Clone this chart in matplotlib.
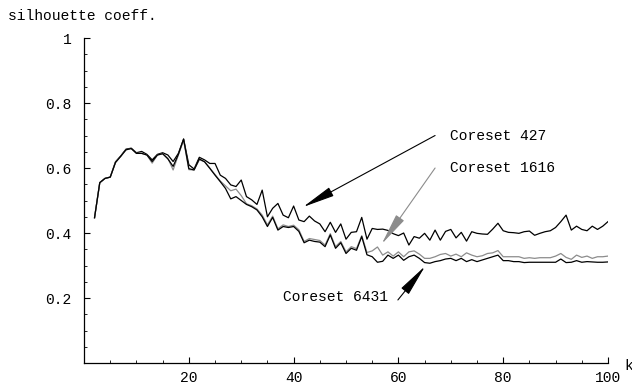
import numpy as np
import matplotlib
matplotlib.use("Agg")
import matplotlib.pyplot as plt
from matplotlib.ticker import MultipleLocator, FixedLocator

# numero de clusters k
k = np.arange(2, 101)

# coeficiente silhouette para cada coreset
coreset_427 = [
    0.447, 0.555, 0.568, 0.572, 0.619, 0.637, 0.658, 0.661, 0.647, 0.651,
    0.642, 0.625, 0.642, 0.647, 0.640, 0.620, 0.645, 0.689, 0.610, 0.597,
    0.633, 0.625, 0.614, 0.614, 0.578, 0.568, 0.548, 0.543, 0.563, 0.512,
    0.502, 0.488, 0.532, 0.450, 0.476, 0.491, 0.455, 0.447, 0.483, 0.440,
    0.435, 0.452, 0.437, 0.428, 0.404, 0.433, 0.402, 0.428, 0.381, 0.402,
    0.404, 0.448, 0.381, 0.414, 0.411, 0.412, 0.408, 0.398, 0.392, 0.400,
    0.363, 0.389, 0.384, 0.399, 0.378, 0.409, 0.378, 0.405, 0.411, 0.385,
    0.402, 0.375, 0.404, 0.399, 0.397, 0.396, 0.412, 0.430, 0.407, 0.402,
    0.401, 0.399, 0.404, 0.406, 0.393, 0.399, 0.404, 0.407, 0.417, 0.435,
    0.455, 0.409, 0.421, 0.411, 0.407, 0.421, 0.411, 0.421, 0.435,
]
coreset_1616 = [
    0.447, 0.555, 0.568, 0.572, 0.617, 0.636, 0.656, 0.660, 0.645, 0.645,
    0.640, 0.615, 0.640, 0.644, 0.630, 0.594, 0.640, 0.685, 0.595, 0.594,
    0.625, 0.620, 0.600, 0.580, 0.560, 0.545, 0.530, 0.535, 0.515, 0.490,
    0.484, 0.474, 0.455, 0.425, 0.452, 0.413, 0.425, 0.420, 0.424, 0.410,
    0.374, 0.383, 0.380, 0.377, 0.363, 0.398, 0.358, 0.374, 0.342, 0.358,
    0.352, 0.392, 0.340, 0.345, 0.357, 0.332, 0.342, 0.329, 0.342, 0.327,
    0.342, 0.345, 0.335, 0.322, 0.322, 0.327, 0.334, 0.337, 0.329, 0.335,
    0.327, 0.339, 0.332, 0.327, 0.330, 0.337, 0.339, 0.346, 0.327, 0.327,
    0.327, 0.327, 0.322, 0.324, 0.322, 0.324, 0.324, 0.324, 0.329, 0.337,
    0.325, 0.319, 0.332, 0.325, 0.329, 0.322, 0.327, 0.327, 0.329,
]
coreset_6431 = [
    0.447, 0.555, 0.568, 0.572, 0.617, 0.636, 0.656, 0.660, 0.645, 0.645,
    0.640, 0.620, 0.640, 0.644, 0.628, 0.605, 0.642, 0.689, 0.598, 0.594,
    0.628, 0.619, 0.599, 0.578, 0.558, 0.537, 0.505, 0.512, 0.500, 0.488,
    0.481, 0.471, 0.450, 0.420, 0.448, 0.409, 0.420, 0.417, 0.420, 0.405,
    0.370, 0.378, 0.374, 0.372, 0.358, 0.394, 0.353, 0.370, 0.337, 0.353,
    0.347, 0.389, 0.333, 0.327, 0.310, 0.313, 0.332, 0.322, 0.332, 0.316,
    0.327, 0.332, 0.322, 0.309, 0.307, 0.312, 0.315, 0.320, 0.322, 0.315,
    0.322, 0.312, 0.318, 0.312, 0.317, 0.322, 0.327, 0.332, 0.315, 0.315,
    0.312, 0.312, 0.309, 0.310, 0.310, 0.310, 0.310, 0.310, 0.310, 0.320,
    0.309, 0.310, 0.315, 0.310, 0.312, 0.311, 0.310, 0.310, 0.311,
]

y_ticks = [0.2, 0.4, 0.6, 0.8, 1.0]
y_labels = ["0.2", "0.4", "0.6", "0.8", "1"]
x_ticks = [20, 40, 60, 80, 100]

fuente = "Liberation Mono"
tam = 10.5

fig = plt.figure(figsize=(6.32, 3.89), dpi=100)
ax = fig.add_axes([0.133, 0.0668, 0.829, 0.8355])

ax.plot(k, coreset_427, color="black", lw=0.9)
ax.plot(k, coreset_1616, color="#8c8c8c", lw=0.9)
ax.plot(k, coreset_6431, color="black", lw=0.9)

ax.set_xlim(0, 100)
ax.set_ylim(0, 1)

# ejes estilo Mathematica: solo izquierda y abajo, ticks hacia dentro
for lado in ["top", "right"]:
    ax.spines[lado].set_visible(False)
ax.spines["left"].set_linewidth(0.9)
ax.spines["bottom"].set_linewidth(0.9)

ax.yaxis.set_major_locator(FixedLocator(y_ticks))
ax.set_yticklabels(y_labels)
ax.yaxis.set_minor_locator(MultipleLocator(0.05))
ax.xaxis.set_major_locator(FixedLocator(x_ticks))
ax.xaxis.set_minor_locator(MultipleLocator(5))

ax.tick_params(which="major", direction="in", length=4, width=0.8)
ax.tick_params(which="minor", direction="in", length=2.2, width=0.6)
ax.tick_params(axis="y", which="major", pad=9)
ax.tick_params(axis="x", which="major", pad=6)
for t in ax.get_xticklabels() + ax.get_yticklabels():
    t.set_fontfamily(fuente)
    t.set_fontsize(tam)

fig.text(0.012, 1 - 16 / 389, "silhouette coeff.", family=fuente, size=tam,
         ha="left", va="center")
fig.text(624 / 632, 1 - 366 / 389, "k", family=fuente, size=tam,
         ha="left", va="center")

# flechas con las etiquetas de cada coreset
flecha = dict(arrowstyle="-|>,head_length=2.0,head_width=0.3",
              shrinkA=0, shrinkB=0, lw=0.8)

ax.annotate("", xy=(41.8, 0.48), xytext=(67.0, 0.70),
            arrowprops=dict(flecha, color="black"))
ax.text(69.8, 0.70, "Coreset 427", family=fuente, size=tam, va="center")

ax.annotate("", xy=(56.8, 0.366), xytext=(67.0, 0.60),
            arrowprops=dict(flecha, color="#8c8c8c"))
ax.text(69.8, 0.60, "Coreset 1616", family=fuente, size=tam, va="center")

ax.annotate("", xy=(65.1, 0.298), xytext=(59.9, 0.194),
            arrowprops=dict(flecha, color="black"))
ax.text(58.0, 0.203, "Coreset 6431", family=fuente, size=tam,
        ha="right", va="center")

fig.savefig("out.png", dpi=100)
